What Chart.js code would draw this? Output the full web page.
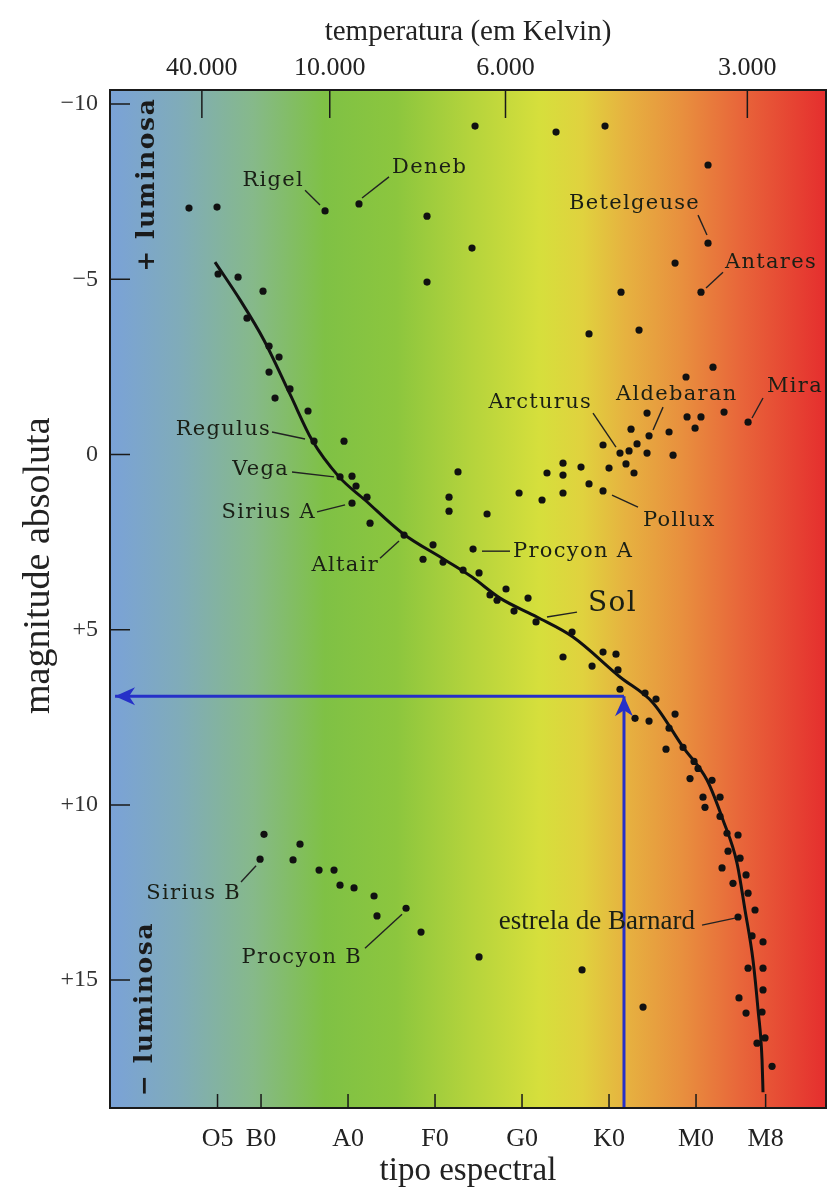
<!DOCTYPE html>
<html>
<head>
<meta charset="utf-8">
<script src="https://cdn.jsdelivr.net/npm/chart.js@4.4.1/dist/chart.umd.min.js"></script>
<style>
  html, body { margin: 0; padding: 0; background: #fff; }
  #wrap { width: 834px; height: 1192px; }
</style>
</head>
<body>
<div id="wrap"><canvas id="hr" width="834" height="1192"></canvas></div>
<script>
// axes
const spectralPos = [5, 10, 20, 30, 40, 50, 60, 68];
const spectralLabels = ['O5', 'B0', 'A0', 'F0', 'G0', 'K0', 'M0', 'M8'];
const tempPos = [3.2, 17.9, 38.1, 65.9];
const tempLabels = ['40.000', '10.000', '6.000', '3.000'];
const magTicks = [-10, -5, 0, 5, 10, 15];

// stars: [spectral index, absolute magnitude]
const giants = [
  [1.72, -7.03], [4.94, -7.06], [17.36, -6.95], [21.26, -7.15], [29.08, -6.80], [34.25, -5.89],
  [29.08, -4.92], [34.60, -9.37], [43.91, -9.20], [49.54, -9.37], [61.38, -8.26], [61.38, -6.03],
  [57.59, -5.46], [60.57, -4.63], [51.38, -4.63], [47.70, -3.44], [53.45, -3.55],
  [61.95, -2.49], [58.85, -2.21], [54.37, -1.18], [58.97, -1.07], [60.57, -1.07], [63.22, -1.21],
  [65.98, -0.92], [52.53, -0.72], [54.60, -0.53], [56.90, -0.64], [59.89, -0.75], [49.31, -0.27],
  [51.26, -0.04], [52.30, -0.10], [53.22, -0.30], [54.37, -0.04], [57.36, 0.02], [44.71, 0.25],
  [46.78, 0.36], [42.87, 0.53], [44.71, 0.59], [50.00, 0.39], [51.95, 0.27], [52.87, 0.53],
  [47.70, 0.84], [49.31, 1.04], [39.66, 1.10], [42.30, 1.30], [44.71, 1.10],
  [32.64, 0.50], [31.61, 1.22], [31.61, 1.62], [35.98, 1.70]
];
const mainSeq = [
  [5.06, -5.15], [7.36, -5.06], [10.23, -4.66], [8.39, -3.89], [10.92, -3.09], [12.07, -2.78],
  [10.92, -2.35], [13.33, -1.87], [11.61, -1.61], [15.40, -1.24], [16.09, -0.38], [19.54, -0.38],
  [19.08, 0.64], [20.46, 0.62], [20.92, 0.90], [22.18, 1.22], [20.46, 1.39], [22.53, 1.96],
  [26.44, 2.30], [29.77, 2.58], [28.62, 2.99], [30.92, 3.07], [33.22, 3.30], [34.37, 2.70],
  [35.06, 3.38], [38.16, 3.84], [36.32, 4.01], [37.13, 4.16], [40.69, 4.10], [39.08, 4.47],
  [41.61, 4.78], [45.75, 5.07], [44.71, 5.78], [49.31, 5.64], [50.80, 5.70], [48.05, 6.04],
  [51.03, 6.15], [51.26, 6.70], [54.14, 6.81], [55.40, 6.98], [52.99, 7.53], [54.60, 7.61],
  [57.59, 7.41], [56.90, 7.81], [56.55, 8.41], [58.51, 8.36], [59.77, 8.76], [60.23, 8.96],
  [59.31, 9.25], [61.84, 9.30], [60.80, 9.78], [62.76, 9.78], [61.03, 10.07], [62.76, 10.33],
  [63.56, 10.81], [64.83, 10.86], [63.68, 11.32], [65.06, 11.52], [62.99, 11.80], [65.75, 12.00],
  [64.25, 12.24], [65.98, 12.52], [66.78, 13.00], [64.83, 13.20], [66.44, 13.74], [67.70, 13.91],
  [65.98, 14.66], [67.70, 14.66], [67.70, 15.28], [64.94, 15.51], [65.75, 15.94], [67.59, 15.91],
  [67.01, 16.80], [67.93, 16.65], [68.74, 17.46],
  [46.90, 14.71], [53.91, 15.77], [35.06, 14.34]
];
const whiteDwarfs = [
  [10.34, 10.84], [9.89, 11.55], [14.48, 11.12], [13.68, 11.57], [16.67, 11.86], [18.39, 11.86],
  [19.08, 12.29], [20.69, 12.37], [22.99, 12.60], [23.33, 13.17], [26.67, 12.95], [28.39, 13.63]
];
// main sequence curve
const curveX = [4.71, 7.59, 10.34, 13.33, 15.86, 18.97, 21.95, 26.21, 31.15, 34.25, 37.47, 41.72,
  45.86, 51.26, 55.06, 58.51, 61.26, 63.10, 64.71, 65.63, 66.55, 67.13, 67.59, 67.70];
const curveY = [-5.49, -4.41, -3.26, -1.72, -0.41, 0.64, 1.30, 2.24, 3.01, 3.50, 4.10, 4.64,
  5.21, 6.35, 7.09, 8.35, 9.29, 10.43, 11.66, 13.00, 14.43, 15.85, 17.28, 18.20];
// blue reading arrows
const arrowH = [[51.72, 6.9], [-6.78, 6.9]];
const arrowV = [[51.72, 18.65], [51.72, 6.9]];

const labelFont = '21px "DejaVu Serif"';
const starLabels = [
  { text: 'Rigel', at: [14.94, -7.83], align: 'right', line: [15.06, -7.54, 16.78, -7.12] },
  { text: 'Deneb', at: [25.06, -8.20], align: 'left', line: [24.71, -7.92, 21.61, -7.32] },
  { text: 'Betelgeuse', at: [60.46, -7.15], align: 'right', line: [60.23, -6.83, 61.26, -6.26] },
  { text: 'Antares', at: [63.33, -5.49], align: 'left', line: [63.10, -5.20, 61.15, -4.75] },
  { text: 'Regulus', at: [11.15, -0.72], align: 'right', line: [11.26, -0.64, 15.06, -0.44] },
  { text: 'Vega', at: [13.22, 0.42], align: 'right', line: [13.56, 0.50, 18.39, 0.64] },
  { text: 'Sirius A', at: [16.32, 1.67], align: 'right', line: [16.44, 1.64, 19.66, 1.44] },
  { text: 'Altair', at: [23.56, 3.16], align: 'right', line: [23.68, 2.96, 25.86, 2.47] },
  { text: 'Arcturus', at: [48.05, -1.47], align: 'right', line: [48.16, -1.18, 50.80, -0.21] },
  { text: 'Aldebaran', at: [57.79, -1.70], align: 'center', line: [56.21, -1.35, 55.06, -0.70] },
  { text: 'Mira', at: [68.16, -1.95], align: 'left', line: [67.70, -1.61, 66.44, -1.04] },
  { text: 'Pollux', at: [53.91, 1.90], align: 'left', line: [50.34, 1.16, 53.33, 1.50] },
  { text: 'Procyon A', at: [38.97, 2.76], align: 'left', line: [35.40, 2.76, 38.62, 2.76] },
  { text: 'Sol', at: [47.59, 4.27], align: 'left', line: [42.87, 4.64, 46.32, 4.50], font: '28px "DejaVu Serif"' },
  { text: 'Sirius B', at: [7.70, 12.54], align: 'right', line: [7.70, 12.20, 9.43, 11.74] },
  { text: 'Procyon B', at: [21.61, 14.37], align: 'right', line: [21.95, 14.09, 26.21, 13.12] },
  { text: 'estrela de Barnard', at: [59.89, 13.34], align: 'right', line: [60.69, 13.43, 64.48, 13.23], font: '27px "Liberation Serif"', spacing: '0px' }
];
const sideLabels = [
  { text: '+ luminosa', at: [-3.10, -5.21] },
  { text: '\u2212 luminosa', at: [-3.33, 18.31] }
];

const bgStops = [
  [0.00, '#7aa2d8'], [0.10, '#80acb8'], [0.20, '#86b98a'], [0.30, '#7fc145'], [0.40, '#8cc63e'],
  [0.50, '#b3d33c'], [0.60, '#d6df3c'], [0.66, '#e0d23e'], [0.72, '#e6b240'], [0.80, '#e88f3e'],
  [0.88, '#e8663a'], [1.00, '#e52e2e']
];

const toXY = arr => arr.map(p => ({ x: p[0], y: p[1] }));

const hrDecor = {
  id: 'hrDecor',
  beforeDatasetsDraw(chart) {
    const { ctx, chartArea: a } = chart;
    const g = ctx.createLinearGradient(a.left, 0, a.right, 0);
    bgStops.forEach(s => g.addColorStop(s[0], s[1]));
    ctx.save();
    ctx.fillStyle = g;
    ctx.fillRect(a.left, a.top, a.right - a.left, a.bottom - a.top);
    ctx.restore();
  },
  afterDatasetsDraw(chart) {
    const { ctx, chartArea: a, scales } = chart;
    const x = scales.x, y = scales.y, xTop = scales.xTop;
    ctx.save();

    // frame and inward ticks
    ctx.strokeStyle = '#1a1a1a';
    ctx.lineWidth = 2;
    ctx.strokeRect(a.left, a.top, a.right - a.left, a.bottom - a.top);
    ctx.lineWidth = 1.5;
    ctx.beginPath();
    y.ticks.forEach(t => {
      const py = y.getPixelForValue(t.value);
      ctx.moveTo(a.left, py); ctx.lineTo(a.left + 20, py);
    });
    x.ticks.forEach(t => {
      const px = x.getPixelForValue(t.value);
      ctx.moveTo(px, a.bottom); ctx.lineTo(px, a.bottom - 14);
    });
    xTop.ticks.forEach(t => {
      const px = xTop.getPixelForValue(t.value);
      ctx.moveTo(px, a.top); ctx.lineTo(px, a.top + 28);
    });
    ctx.stroke();

    // arrow heads
    ctx.fillStyle = '#2630c8';
    [arrowH, arrowV].forEach(arr => {
      const p0 = arr[arr.length - 2], p1 = arr[arr.length - 1];
      const x0 = x.getPixelForValue(p0[0]), y0 = y.getPixelForValue(p0[1]);
      const x1 = x.getPixelForValue(p1[0]), y1 = y.getPixelForValue(p1[1]);
      const ang = Math.atan2(y1 - y0, x1 - x0);
      const len = 20, hw = 9;
      ctx.beginPath();
      ctx.moveTo(x1, y1);
      ctx.lineTo(x1 - len * Math.cos(ang) + hw * Math.sin(ang), y1 - len * Math.sin(ang) - hw * Math.cos(ang));
      ctx.lineTo(x1 - len * 0.7 * Math.cos(ang), y1 - len * 0.7 * Math.sin(ang));
      ctx.lineTo(x1 - len * Math.cos(ang) - hw * Math.sin(ang), y1 - len * Math.sin(ang) + hw * Math.cos(ang));
      ctx.closePath();
      ctx.fill();
    });

    // star names
    ctx.strokeStyle = '#222';
    ctx.fillStyle = '#1a1f15';
    ctx.lineWidth = 1.4;
    ctx.textBaseline = 'middle';
    starLabels.forEach(l => {
      ctx.beginPath();
      ctx.moveTo(x.getPixelForValue(l.line[0]), y.getPixelForValue(l.line[1]));
      ctx.lineTo(x.getPixelForValue(l.line[2]), y.getPixelForValue(l.line[3]));
      ctx.stroke();
      ctx.font = l.font || labelFont;
      ctx.letterSpacing = l.spacing || '1.3px';
      ctx.textAlign = l.align;
      ctx.fillText(l.text, x.getPixelForValue(l.at[0]), y.getPixelForValue(l.at[1]));
    });

    // luminosity side notes
    ctx.font = 'bold 25px "DejaVu Serif"';
    ctx.letterSpacing = '1.6px';
    ctx.textAlign = 'left';
    ctx.fillStyle = '#1a1a1a';
    sideLabels.forEach(l => {
      ctx.save();
      ctx.translate(x.getPixelForValue(l.at[0]), y.getPixelForValue(l.at[1]));
      ctx.rotate(-Math.PI / 2);
      ctx.fillText(l.text, 0, 0);
      ctx.restore();
    });
    ctx.restore();
  }
};

const serif = 'Liberation Serif';

new Chart(document.getElementById('hr'), {
  type: 'scatter',
  data: {
    datasets: [
      {
        type: 'line', data: toXY(arrowH), borderColor: '#2630c8', borderWidth: 3,
        pointRadius: 0, tension: 0, fill: false
      },
      {
        type: 'line', data: toXY(arrowV), borderColor: '#2630c8', borderWidth: 3,
        pointRadius: 0, tension: 0, fill: false
      },
      {
        type: 'line', data: curveX.map((v, i) => ({ x: v, y: curveY[i] })),
        borderColor: '#111', borderWidth: 3, pointRadius: 0,
        cubicInterpolationMode: 'monotone', fill: false
      },
      {
        data: toXY(giants), backgroundColor: '#111', borderWidth: 0, pointRadius: 3.6
      },
      {
        data: toXY(mainSeq), backgroundColor: '#111', borderWidth: 0, pointRadius: 3.6
      },
      {
        data: toXY(whiteDwarfs), backgroundColor: '#111', borderWidth: 0, pointRadius: 3.6
      }
    ]
  },
  options: {
    responsive: false,
    animation: false,
    devicePixelRatio: 1,
    events: [],
    layout: { padding: { right: 8 } },
    plugins: { legend: { display: false }, tooltip: { enabled: false } },
    scales: {
      x: {
        type: 'linear', position: 'bottom', min: -7.36, max: 74.94,
        afterBuildTicks: s => { s.ticks = spectralPos.map(v => ({ value: v })); },
        afterFit: s => { s.height = 84; },
        grid: { display: false, drawTicks: false },
        border: { display: false },
        ticks: {
          autoSkip: false, maxRotation: 0, padding: 16, color: '#222',
          font: { family: serif, size: 26 },
          callback: (v, i) => spectralLabels[i]
        },
        title: {
          display: true, text: 'tipo espectral', color: '#222',
          font: { family: serif, size: 33 }, padding: { top: 0, bottom: 1 }
        }
      },
      xTop: {
        type: 'linear', position: 'top', min: -7.36, max: 74.94,
        afterBuildTicks: s => { s.ticks = tempPos.map(v => ({ value: v })); },
        afterFit: s => { s.height = 90; },
        grid: { display: false, drawTicks: false },
        border: { display: false },
        ticks: {
          autoSkip: false, maxRotation: 0, padding: 6, color: '#222',
          font: { family: serif, size: 26 },
          callback: (v, i) => tempLabels[i]
        },
        title: {
          display: true, text: 'temperatura (em Kelvin)', color: '#222',
          font: { family: serif, size: 29 }, padding: { top: 15, bottom: 0 }
        }
      },
      y: {
        type: 'linear', position: 'left', reverse: true, min: -10.4, max: 18.65,
        afterBuildTicks: s => { s.ticks = magTicks.map(v => ({ value: v })); },
        afterFit: s => { s.width = 110; },
        grid: { display: false, drawTicks: false },
        border: { display: false },
        ticks: {
          padding: 12, color: '#333',
          font: { family: serif, size: 24 },
          callback: v => v < 0 ? '\u2212' + (-v) : (v > 0 ? '+' + v : '0')
        },
        title: {
          display: true,
          // leading spaces lift the centred title to where the original sits
          text: '\u00a0\u00a0\u00a0\u00a0\u00a0\u00a0\u00a0magnitude absoluta',
          color: '#222',
          font: { family: serif, size: 38 }, padding: { top: 16, bottom: 0 }
        }
      }
    }
  },
  plugins: [hrDecor]
});
</script>
</body>
</html>
